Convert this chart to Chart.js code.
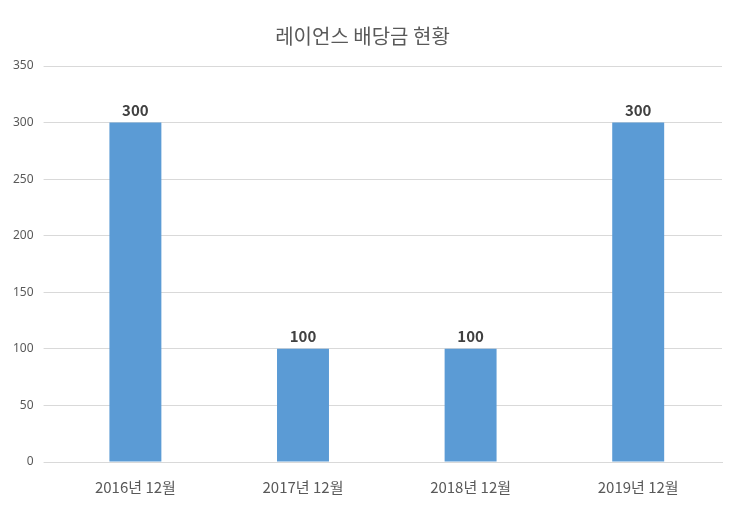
<!DOCTYPE html>
<html><head><meta charset="utf-8">
<script src="https://cdn.jsdelivr.net/npm/chart.js@4/dist/chart.umd.min.js"></script>
<style>html,body{margin:0;background:#fff}#wrap{width:740px;height:515px}</style>
</head><body><div id="wrap"><canvas id="c"></canvas></div>
<script>
var categories = ['2016년 12월', '2017년 12월', '2018년 12월', '2019년 12월'];
var dividends = [300, 100, 100, 300];
var yTicks = [0, 50, 100, 150, 200, 250, 300, 350];

var valueLabels = {
	id: 'valueLabels',
	afterDatasetsDraw: function(chart) {
		var ctx = chart.ctx;
		ctx.save();
		ctx.font = 'bold 15px "Noto Sans CJK KR", sans-serif';
		ctx.fillStyle = '#404040';
		ctx.textAlign = 'center';
		ctx.textBaseline = 'bottom';
		chart.getDatasetMeta(0).data.forEach(function(bar, i) {
			ctx.fillText(dividends[i], bar.x, bar.y - 5);
		});
		ctx.restore();
	}
};

new Chart(document.getElementById('c'), {
	type: 'bar',
	data: {
		labels: categories,
		datasets: [{
			data: dividends,
			backgroundColor: '#5B9BD5',
			categoryPercentage: 1,
			barPercentage: 0.31
		}]
	},
	options: {
		responsive: true,
		maintainAspectRatio: false,
		animation: false,
		layout: { padding: { left: 3, right: 18, top: 20, bottom: 11 } },
		plugins: {
			legend: { display: false },
			tooltip: { enabled: false },
			title: {
				display: true,
				text: '레이언스 배당금 현황',
				color: '#595959',
				font: { size: 20, family: '"Noto Sans CJK KR", sans-serif', weight: 'normal' },
				padding: { top: 4, bottom: 18 }
			}
		},
		scales: {
			x: {
				grid: { display: false },
				border: { color: '#d9d9d9' },
				ticks: { color: '#595959', font: { size: 15, family: '"Noto Sans CJK KR", sans-serif' }, padding: 8 }
			},
			y: {
				min: 0, max: 350,
				afterBuildTicks: function(axis) { axis.ticks = yTicks.map(function(v) { return { value: v }; }); },
				grid: { color: '#d9d9d9' },
				border: { display: false },
				ticks: { color: '#595959', font: { size: 12, family: '"Noto Sans", sans-serif' }, padding: 10 }
			}
		}
	},
	plugins: [valueLabels]
});
</script></body></html>
